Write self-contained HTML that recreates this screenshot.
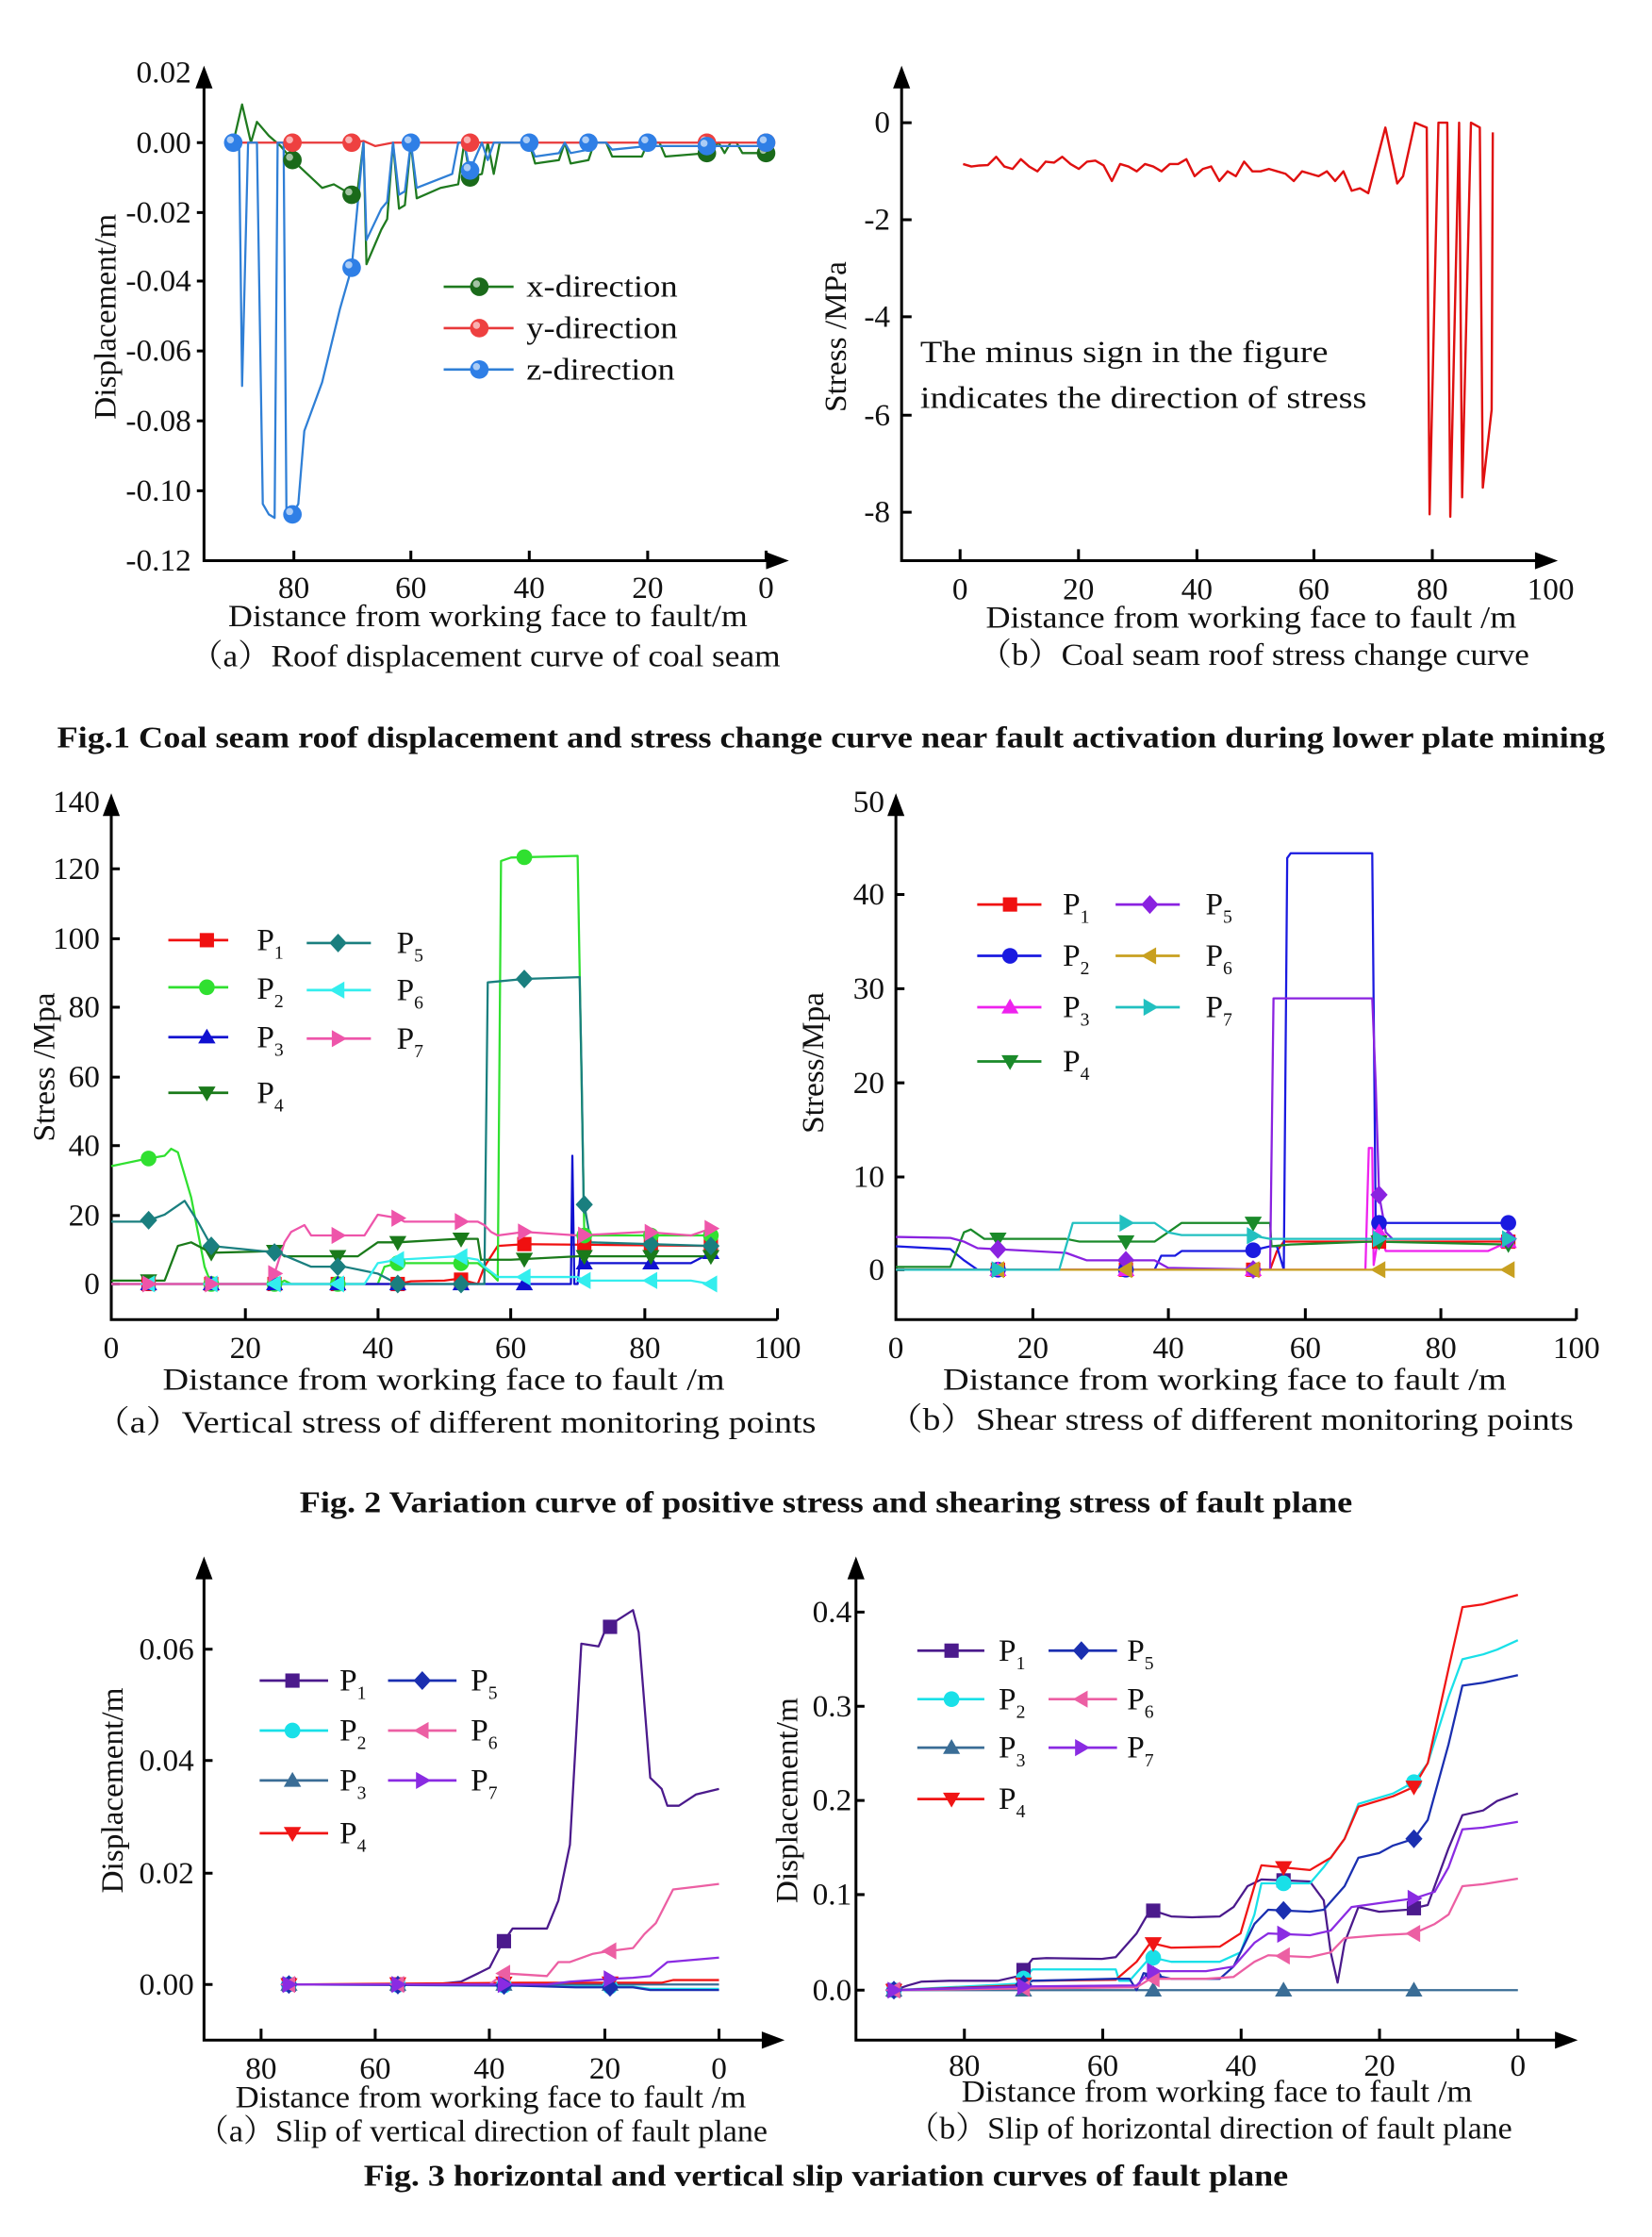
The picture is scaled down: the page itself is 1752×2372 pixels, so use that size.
<!DOCTYPE html>
<html><head><meta charset="utf-8">
<style>
html,body{margin:0;padding:0;background:#fff;}
svg{display:block;}
text{font-family:"Liberation Serif","Noto Serif CJK SC",serif;fill:#111;}
.t{font-size:22px;}
.b{font-weight:bold;font-size:21px;}
</style></head>
<body>
<svg id="s" xmlns="http://www.w3.org/2000/svg" width="1752" height="2372" viewBox="0 0 1158 1568" preserveAspectRatio="none">
<g id="axes" stroke="#000" stroke-width="2" fill="none">
<path d="M143,58 V393 H540"/>
<path d="M206,393v-7M288,393v-7M371,393v-7M454,393v-7M537,393v-7M143,100h-5M143,149h-5M143,197h-5M143,246h-5M143,295h-5M143,344h-5"/>
<path d="M632,58 V393 H1082"/>
<path d="M673,393v-8M756,393v-8M839,393v-8M921,393v-8M1004,393v-8M632,86h7M632,154h7M632,222h7M632,291h7M632,359h7"/>
<path d="M78,568 V925 H545"/>
<path d="M172,925v-8M265,925v-8M358,925v-8M452,925v-8M545,925v-8M78,609h6M78,658h6M78,706h6M78,755h6M78,803h6M78,852h6M78,900h6"/>
<path d="M628,568 V925 H1105"/>
<path d="M724,925v-8M819,925v-8M915,925v-8M1010,925v-8M1105,925v-8M628,627h6M628,693h6M628,759h6M628,825h6M628,890h6"/>
<path d="M143,1103 V1430 H540"/>
<path d="M183,1430v-8M263,1430v-8M343,1430v-8M424,1430v-8M504,1430v-8M143,1156h6M143,1234h6M143,1313h6M143,1391h6"/>
<path d="M600,1103 V1430 H1098"/>
<path d="M676,1430v-8M773,1430v-8M870,1430v-8M967,1430v-8M1064,1430v-8M600,1130h6M600,1196h6M600,1262h6M600,1328h6M600,1395h6"/>
</g>
<g fill="#000">
<path d="M137,62 L143,46 L149,62Z"/><path d="M537,387 L553,393 L537,399Z"/>
<path d="M626,62 L632,46 L638,62Z"/><path d="M1076,387 L1092,393 L1076,399Z"/>
<path d="M72,572 L78,556 L84,572Z"/>
<path d="M622,572 L628,556 L634,572Z"/>
<path d="M137,1107 L143,1091 L149,1107Z"/><path d="M534,1424 L550,1430 L534,1436Z"/>
<path d="M594,1107 L600,1091 L606,1107Z"/><path d="M1090,1424 L1106,1430 L1090,1436Z"/>
</g>
<g id="data"></g>
<g class="t">
<text x="134" y="58" text-anchor="end">0.02</text>
<text x="134" y="107" text-anchor="end">0.00</text>
<text x="134" y="156" text-anchor="end">-0.02</text>
<text x="134" y="204" text-anchor="end">-0.04</text>
<text x="134" y="253" text-anchor="end">-0.06</text>
<text x="134" y="302" text-anchor="end">-0.08</text>
<text x="134" y="351" text-anchor="end">-0.10</text>
<text x="134" y="400" text-anchor="end">-0.12</text>
<text x="206" y="419" text-anchor="middle">80</text>
<text x="288" y="419" text-anchor="middle">60</text>
<text x="371" y="419" text-anchor="middle">40</text>
<text x="454" y="419" text-anchor="middle">20</text>
<text x="537" y="419" text-anchor="middle">0</text>
<text x="160" y="439" textLength="364" lengthAdjust="spacingAndGlyphs">Distance from working face to fault/m</text>
<text x="133" y="467" textLength="414" lengthAdjust="spacingAndGlyphs">（a）Roof displacement curve of coal seam</text>
<text transform="translate(81,222) rotate(-90)" text-anchor="middle">Displacement/m</text>
<text x="369" y="208" textLength="106" lengthAdjust="spacingAndGlyphs">x-direction</text>
<text x="369" y="237" textLength="106" lengthAdjust="spacingAndGlyphs">y-direction</text>
<text x="369" y="266" textLength="104" lengthAdjust="spacingAndGlyphs">z-direction</text>
<text x="624" y="93" text-anchor="end">0</text>
<text x="624" y="161" text-anchor="end">-2</text>
<text x="624" y="229" text-anchor="end">-4</text>
<text x="624" y="298" text-anchor="end">-6</text>
<text x="624" y="366" text-anchor="end">-8</text>
<text x="673" y="420" text-anchor="middle">0</text>
<text x="756" y="420" text-anchor="middle">20</text>
<text x="839" y="420" text-anchor="middle">40</text>
<text x="921" y="420" text-anchor="middle">60</text>
<text x="1004" y="420" text-anchor="middle">80</text>
<text x="1087" y="420" text-anchor="middle">100</text>
<text x="691" y="440" textLength="372" lengthAdjust="spacingAndGlyphs">Distance from working face to fault /m</text>
<text x="686" y="466" textLength="386" lengthAdjust="spacingAndGlyphs">（b）Coal seam roof stress change curve</text>
<text transform="translate(593,236) rotate(-90)" text-anchor="middle">Stress /MPa</text>
<text x="645" y="254" textLength="286" lengthAdjust="spacingAndGlyphs">The minus sign in the figure</text>
<text x="645" y="286" textLength="313" lengthAdjust="spacingAndGlyphs">indicates the direction of stress</text>
<text class="b" x="40" y="524" textLength="1085" lengthAdjust="spacingAndGlyphs">Fig.1 Coal seam roof displacement and stress change curve near fault activation during lower plate mining</text>
<text x="70" y="569" text-anchor="end">140</text>
<text x="70" y="616" text-anchor="end">120</text>
<text x="70" y="665" text-anchor="end">100</text>
<text x="70" y="713" text-anchor="end">80</text>
<text x="70" y="762" text-anchor="end">60</text>
<text x="70" y="810" text-anchor="end">40</text>
<text x="70" y="859" text-anchor="end">20</text>
<text x="70" y="907" text-anchor="end">0</text>
<text x="78" y="952" text-anchor="middle">0</text>
<text x="172" y="952" text-anchor="middle">20</text>
<text x="265" y="952" text-anchor="middle">40</text>
<text x="358" y="952" text-anchor="middle">60</text>
<text x="452" y="952" text-anchor="middle">80</text>
<text x="545" y="952" text-anchor="middle">100</text>
<text x="114" y="974" textLength="394" lengthAdjust="spacingAndGlyphs">Distance from working face to fault /m</text>
<text x="66" y="1004" textLength="506" lengthAdjust="spacingAndGlyphs">（a）Vertical stress of different monitoring points</text>
<text transform="translate(38,748) rotate(-90)" text-anchor="middle">Stress /Mpa</text>
<text x="620" y="569" text-anchor="end">50</text>
<text x="620" y="634" text-anchor="end">40</text>
<text x="620" y="700" text-anchor="end">30</text>
<text x="620" y="766" text-anchor="end">20</text>
<text x="620" y="832" text-anchor="end">10</text>
<text x="620" y="897" text-anchor="end">0</text>
<text x="628" y="952" text-anchor="middle">0</text>
<text x="724" y="952" text-anchor="middle">20</text>
<text x="819" y="952" text-anchor="middle">40</text>
<text x="915" y="952" text-anchor="middle">60</text>
<text x="1010" y="952" text-anchor="middle">80</text>
<text x="1105" y="952" text-anchor="middle">100</text>
<text x="661" y="974" textLength="395" lengthAdjust="spacingAndGlyphs">Distance from working face to fault /m</text>
<text x="622" y="1002" textLength="481" lengthAdjust="spacingAndGlyphs">（b）Shear stress of different monitoring points</text>
<text transform="translate(577,745) rotate(-90)" text-anchor="middle">Stress/Mpa</text>
<text class="b" x="210" y="1060" textLength="738" lengthAdjust="spacingAndGlyphs">Fig. 2 Variation curve of positive stress and shearing stress of fault plane</text>
<text x="136" y="1163" text-anchor="end">0.06</text>
<text x="136" y="1241" text-anchor="end">0.04</text>
<text x="136" y="1320" text-anchor="end">0.02</text>
<text x="136" y="1398" text-anchor="end">0.00</text>
<text x="183" y="1457" text-anchor="middle">80</text>
<text x="263" y="1457" text-anchor="middle">60</text>
<text x="343" y="1457" text-anchor="middle">40</text>
<text x="424" y="1457" text-anchor="middle">20</text>
<text x="504" y="1457" text-anchor="middle">0</text>
<text x="165" y="1477" textLength="358" lengthAdjust="spacingAndGlyphs">Distance from working face to fault /m</text>
<text x="138" y="1501" textLength="400" lengthAdjust="spacingAndGlyphs">（a）Slip of vertical direction of fault plane</text>
<text transform="translate(86,1255) rotate(-90)" text-anchor="middle">Displacement/m</text>
<text x="597" y="1137" text-anchor="end">0.4</text>
<text x="597" y="1203" text-anchor="end">0.3</text>
<text x="597" y="1269" text-anchor="end">0.2</text>
<text x="597" y="1335" text-anchor="end">0.1</text>
<text x="597" y="1402" text-anchor="end">0.0</text>
<text x="676" y="1455" text-anchor="middle">80</text>
<text x="773" y="1455" text-anchor="middle">60</text>
<text x="870" y="1455" text-anchor="middle">40</text>
<text x="967" y="1455" text-anchor="middle">20</text>
<text x="1064" y="1455" text-anchor="middle">0</text>
<text x="674" y="1473" textLength="358" lengthAdjust="spacingAndGlyphs">Distance from working face to fault /m</text>
<text x="636" y="1499" textLength="424" lengthAdjust="spacingAndGlyphs">（b）Slip of horizontal direction of fault plane</text>
<text transform="translate(559,1262) rotate(-90)" text-anchor="middle">Displacement/m</text>
<text class="b" x="255" y="1532" textLength="648" lengthAdjust="spacingAndGlyphs">Fig. 3 horizontal and vertical slip variation curves of fault plane</text>
</g>
<g class="t" id="legtext">
<text x="180" y="666">P<tspan font-size="13" dy="6">1</tspan></text>
<text x="180" y="700">P<tspan font-size="13" dy="6">2</tspan></text>
<text x="180" y="734">P<tspan font-size="13" dy="6">3</tspan></text>
<text x="180" y="773">P<tspan font-size="13" dy="6">4</tspan></text>
<text x="278" y="668">P<tspan font-size="13" dy="6">5</tspan></text>
<text x="278" y="701">P<tspan font-size="13" dy="6">6</tspan></text>
<text x="278" y="735">P<tspan font-size="13" dy="6">7</tspan></text>
<text x="745" y="641">P<tspan font-size="13" dy="6">1</tspan></text>
<text x="745" y="677">P<tspan font-size="13" dy="6">2</tspan></text>
<text x="745" y="713">P<tspan font-size="13" dy="6">3</tspan></text>
<text x="745" y="751">P<tspan font-size="13" dy="6">4</tspan></text>
<text x="845" y="641">P<tspan font-size="13" dy="6">5</tspan></text>
<text x="845" y="677">P<tspan font-size="13" dy="6">6</tspan></text>
<text x="845" y="713">P<tspan font-size="13" dy="6">7</tspan></text>
<text x="238" y="1185">P<tspan font-size="13" dy="6">1</tspan></text>
<text x="238" y="1220">P<tspan font-size="13" dy="6">2</tspan></text>
<text x="238" y="1255">P<tspan font-size="13" dy="6">3</tspan></text>
<text x="238" y="1292">P<tspan font-size="13" dy="6">4</tspan></text>
<text x="330" y="1185">P<tspan font-size="13" dy="6">5</tspan></text>
<text x="330" y="1220">P<tspan font-size="13" dy="6">6</tspan></text>
<text x="330" y="1255">P<tspan font-size="13" dy="6">7</tspan></text>
<text x="700" y="1164">P<tspan font-size="13" dy="6">1</tspan></text>
<text x="700" y="1198">P<tspan font-size="13" dy="6">2</tspan></text>
<text x="700" y="1232">P<tspan font-size="13" dy="6">3</tspan></text>
<text x="700" y="1268">P<tspan font-size="13" dy="6">4</tspan></text>
<text x="790" y="1164">P<tspan font-size="13" dy="6">5</tspan></text>
<text x="790" y="1198">P<tspan font-size="13" dy="6">6</tspan></text>
<text x="790" y="1232">P<tspan font-size="13" dy="6">7</tspan></text>
</g>
</svg>
<script>
(function(){
var G=document.getElementById("data"),out="";
function line(pts,X,Y,c,w){var d="";pts.forEach(function(p,i){d+=(i?"L":"M")+X(p[0]).toFixed(1)+","+Y(p[1]).toFixed(1);});out+='<path d="'+d+'" fill="none" stroke="'+c+'" stroke-width="'+(w||1.5)+'" stroke-linejoin="round"/>';}
function interp(pts,x){for(var i=0;i<pts.length-1;i++){var a=pts[i],b=pts[i+1];var lo=Math.min(a[0],b[0]),hi=Math.max(a[0],b[0]);if(x>=lo&&x<=hi){if(hi==lo)return b[1];return a[1]+(b[1]-a[1])*(x-a[0])/(b[0]-a[0]);}}return pts[pts.length-1][1];}
function mk(type,x,y,c,r){r=r||5.5;var s;
 if(type=="sq")s='<rect x="'+(x-r+0.5)+'" y="'+(y-r+0.5)+'" width="'+(2*r-1)+'" height="'+(2*r-1)+'"';
 else if(type=="ci")s='<circle cx="'+x+'" cy="'+y+'" r="'+r+'"';
 else{var p;
  if(type=="up")p=[[0,-r*1.1],[r*1.1,r*0.8],[-r*1.1,r*0.8]];
  else if(type=="dn")p=[[0,r*1.1],[r*1.1,-r*0.8],[-r*1.1,-r*0.8]];
  else if(type=="di")p=[[0,-r*1.2],[r*1.1,0],[0,r*1.2],[-r*1.1,0]];
  else if(type=="lf")p=[[-r*1.1,0],[r*0.8,-r*1.1],[r*0.8,r*1.1]];
  else p=[[r*1.1,0],[-r*0.8,-r*1.1],[-r*0.8,r*1.1]];
  s='<polygon points="'+p.map(function(q){return (x+q[0]).toFixed(1)+","+(y+q[1]).toFixed(1)}).join(" ")+'"';}
 out+=s+' fill="'+c+'"/>';}
function ball(x,y,c){out+='<circle cx="'+x+'" cy="'+y+'" r="6.5" fill="'+c+'"/><circle cx="'+(x-2)+'" cy="'+(y-2)+'" r="2.5" fill="#fff" opacity="0.6"/>';}
var T=["sq","ci","up","dn","di","lf","rt"];
function legend(c1,c2,ys,ys2,cols){for(var i=0;i<7;i++){var col=i<4?c1:c2,y=i<4?ys[i]:ys2[i-4];out+='<path d="M'+col[0]+","+y+"H"+col[1]+'" stroke="'+cols[i]+'" stroke-width="1.8"/>';mk(T[i],col[2],y,cols[i]);}}

var X=function(d){return 537-4.15*d},Y=function(v){return 100-2435*v};
var gx=[[90,0],[88.5,0.011],[87,0],[86,0.006],[84,0.002],[82,-0.001],[80,-0.005],[75,-0.013],[73,-0.012],[70,-0.015],[69,-0.014],[68,0],[67.5,-0.035],[65,-0.025],[64,-0.022],[63,0],[62,-0.019],[61,-0.018],[60,0],[59,-0.016],[55,-0.013],[52,-0.012],[51,0],[50,-0.01],[48,-0.009],[47,0],[46,-0.009],[45,0],[40,0],[39,-0.006],[35,-0.005],[34,0],[33,-0.006],[30,-0.005],[29,0],[27,0],[26,-0.004],[21,-0.004],[20,0],[18,0],[17,-0.004],[10,-0.003],[8,0],[7,-0.003],[6,0],[5,0],[4,-0.003],[0,-0.003]];
var ry=[[90,0],[70,0],[68,0.0005],[66,-0.001],[63,0],[0,0]];
var bz=[[90,0],[89,0],[88.5,-0.07],[87.5,0],[86,0],[85,-0.104],[84,-0.107],[83,-0.108],[82.5,0],[81.5,0],[81,-0.107],[80,-0.107],[79,-0.104],[78,-0.083],[75,-0.069],[72,-0.048],[70,-0.036],[68,0],[67.5,-0.028],[65,-0.019],[64,-0.017],[63,0],[62,-0.015],[61,-0.014],[60,0],[59,-0.013],[53,-0.009],[52,0],[51,0],[50,-0.008],[49,-0.004],[48,0],[47,-0.005],[46,0],[40,0],[39,-0.004],[35,-0.003],[34,0],[33,-0.003],[30,-0.002],[29,0],[27,0],[26,-0.002],[20,-0.001],[18,-0.001],[10,-0.001],[0,-0.001]];
line(gx,X,Y,"#1f7a1f");line(ry,X,Y,"#e8393a");line(bz,X,Y,"#2f7fd6");
[80,70,50,10,0].forEach(function(d){ball(X(d),Y(interp(gx,d)),"#1a6a1a");});
[80,70,50,10,0].forEach(function(d){ball(X(d),Y(0),"#ee4040");});
[[90,0],[80,-0.107],[70,-0.036],[60,0],[50,-0.008],[40,0],[30,0],[20,0],[10,-0.001],[0,0]].forEach(function(p){ball(X(p[0]),Y(p[1]),"#2f7fe6");});
[["#1f7a1f","#1a6a1a",201],["#e8393a","#ee4040",230],["#2f7fd6","#2f7fe6",259]].forEach(function(a){out+='<path d="M311,'+a[2]+'H360" stroke="'+a[0]+'" stroke-width="1.8"/>';ball(336,a[2],a[1]);});

X=function(d){return 673+4.14*d};Y=function(s){return 86-34.1*s};
var rs=[],vals=[-0.85,-0.9,-0.88,-0.87,-0.7,-0.9,-0.95,-0.75,-0.9,-1.0,-0.8,-0.82,-0.7,-0.85,-0.95,-0.8,-0.78,-0.88,-1.2,-0.85,-0.9,-1.0,-0.85,-0.9,-1.0,-0.85,-0.85,-0.75,-1.1,-0.95,-0.9,-1.2,-1.0,-1.1,-0.8,-1.0,-1.0,-0.95,-1.0,-1.05,-1.2,-1.0,-1.05,-1.1,-1.0,-1.2,-1.0,-1.4,-1.35,-1.45];
for(var i=0;i<vals.length;i++)rs.push([0.5+i*1.4,vals[i]]);
rs=rs.concat([[72,-0.1],[74,-1.25],[75,-1.1],[77,0],[79,-0.1],[79.5,-8.05],[81,0],[82.5,0],[83,-8.1],[84.5,0],[85,-7.7],[86.5,0],[88,-0.1],[88.5,-7.5],[90,-5.9],[90.2,-0.2]]);
line(rs,X,Y,"#e01010",1.6);

X=function(d){return 78+4.67*d};Y=function(s){return 900-2.43*s};
var c2a=["#f01010","#30e030","#1010d0","#1a7a1a","#1a7f7f","#33eeee","#ee55aa"];
var s2a=[
[[0,0],[43,0],[45,0.8],[50,1],[52,1.5],[55,0],[56,5],[58,11],[62,11.5],[90,11]],
[[0,34],[5,36],[8,37],[9,39],[10,38],[12,25],[14,5],[15,0],[25,0],[26,1],[27,0],[40,0],[41,5],[43,6],[55,6],[57,3],[58,1],[58.5,122],[60,123],[70,123.5],[71,14],[90,14]],
[[0,0],[69,0],[69.2,37],[69.5,0],[70,0],[70.5,10],[71,6],[87,6],[90,9]],
[[0,1],[8,1],[10,11],[12,12],[14,10],[15,9],[25,9.5],[26,8],[37,8],[40,12],[43,12],[52,13],[55,13],[55.5,7],[60,7],[70,8],[90,8]],
[[0,18],[5,18],[8,20],[11,24],[13,18],[15,11],[25,9],[30,5],[35,5],[40,3],[43,0],[56,0],[56.5,87],[62,88],[70.3,88.5],[70.6,60],[70.9,24],[72,12],[90,11]],
[[0,0],[38,0],[40,6],[43,7],[52,8],[55,7],[56,5],[58,2],[70,2],[71,1],[80,1],[87,1],[90,0]],
[[0,0],[24,0],[26,12],[27,15],[29,17],[30,14],[38,14],[40,20],[43,19],[44,18],[55,18],[56,17],[57,15],[58,14],[62,15],[70,14],[80,15],[87,14],[90,16]]];
s2a.forEach(function(p,i){line(p,X,Y,c2a[i]);});
[5.6,15,24.5,34,43,52.5,62,71,81,90].forEach(function(d){s2a.forEach(function(p,i){mk(T[i],X(d),Y(interp(p,d)),c2a[i]);});});
legend([118,160,145],[215,260,237],[659,692,727,766],[661,694,728],c2a);

X=function(d){return 628+4.77*d};Y=function(s){return 890-6.56*s};
var c2b=["#f01010","#1a1ae0","#ee22ee","#1a8a2a","#8a22e0","#c8a020","#22c0c0"];
var s2b=[
[[0,0],[55,0],[56,2],[57,3],[90,3]],
[[0,2.5],[8,2.2],[10,1],[12,0],[38,0],[39,1.5],[41,1.5],[42,2],[52,2],[55,2.5],[56,2.5],[57,0],[57.5,44],[58,44.5],[70,44.5],[70.5,5],[71,5],[90,5]],
[[0,0],[69,0],[69.5,13],[70,13],[70.2,0.5],[71,4],[72,2],[87,2],[90,3]],
[[0,0.3],[8,0.3],[10,4],[11,4.3],[13,3.3],[25,3.3],[27,3],[38,3],[40,4],[42,5],[55,5],[55.2,2.5],[58,2.7],[70,3],[90,2.7]],
[[0,3.5],[8,3.4],[10,3],[12,2.3],[20,2],[25,1.8],[28,1],[38,1],[40,0.2],[55,0],[55.5,29],[70,29],[70.5,20],[71,8],[72,4],[73,3.3],[90,3.3]],
[[0,0],[90,0]],
[[0,0],[24,0],[26,5],[38,5],[40,4],[42,3.7],[52,3.7],[55,3.3],[90,3.3]]];
s2b.forEach(function(p,i){line(p,X,Y,c2b[i]);});
[15,33.8,52.5,71,90].forEach(function(d){s2b.forEach(function(p,i){mk(T[i],X(d),Y(interp(p,d)),c2b[i]);});});
legend([685,730,708],[782,827,806],[634,670,706,744],[634,670,706],c2b);

X=function(d){return 504-4.02*d};Y=function(v){return 1391-3917*v};
var c3=["#4b1a8c","#19e0e8","#3a6d96","#f01515","#1a2fb0","#ec5fa3","#8a2be2"];
var s3a=[
[[75,0],[50,0],[45,0.0005],[42,0.002],[40,0.003],[38,0.007],[36,0.010],[30,0.010],[28,0.015],[26,0.025],[24,0.061],[21,0.0605],[20,0.063],[18,0.065],[15,0.067],[14,0.063],[12,0.037],[10,0.035],[9,0.032],[7,0.032],[4,0.034],[0,0.035]],
[[75,0],[35,-0.0002],[25,-0.0003],[15,-0.0004],[12,-0.0008],[0,-0.0008]],
[[75,0],[0,0]],
[[75,0],[35,0.0003],[10,0.0003],[8,0.0008],[0,0.0008]],
[[75,0],[35,-0.0002],[25,-0.0005],[15,-0.0005],[12,-0.001],[0,-0.001]],
[[75,0],[40,0],[37.5,0.002],[30,0.0015],[28,0.004],[26,0.004],[22,0.0055],[19,0.006],[15,0.0065],[13,0.009],[11,0.011],[8,0.017],[4,0.0175],[0,0.018]],
[[75,0],[30,0],[26,0.0005],[19,0.001],[15,0.0012],[12,0.0015],[9,0.004],[0,0.0048]]];
s3a.forEach(function(p,i){line(p,X,Y,c3[i]);});
[75,56,37.5,19].forEach(function(d){s3a.forEach(function(p,i){mk(T[i],X(d),Y(interp(p,d)),c3[i]);});});
legend([182,230,205],[272,320,296],[1178,1213,1248,1285],[1178,1213,1248],c3);

X=function(d){return 1064-4.86*d};Y=function(v){return 1395-663*v};
var s3b=[
[[90,0],[88,0.005],[86,0.009],[82,0.01],[75,0.01],[72,0.015],[70,0.033],[68,0.034],[60,0.033],[58,0.035],[55,0.06],[53,0.085],[50,0.078],[47,0.077],[43,0.078],[41,0.088],[39,0.11],[37,0.117],[30,0.115],[28,0.095],[27,0.04],[26,0.008],[25,0.05],[23,0.088],[20,0.083],[16,0.085],[13,0.09],[10,0.15],[8,0.185],[5,0.19],[3,0.2],[0,0.208]],
[[90,0],[72,0.007],[70,0.022],[58,0.022],[57.5,0.01],[56,0.01],[53,0.035],[50,0.03],[43,0.03],[40,0.04],[38,0.08],[37,0.113],[30,0.113],[28,0.13],[25,0.16],[23,0.197],[18,0.208],[15,0.22],[13,0.24],[10,0.31],[8,0.35],[5,0.355],[3,0.36],[0,0.37]],
[[90,0],[0,0]],
[[90,0],[72,0.005],[70,0.01],[58,0.011],[55,0.03],[53,0.05],[50,0.045],[43,0.046],[40,0.06],[38,0.11],[37,0.132],[30,0.127],[27,0.14],[25,0.16],[23,0.194],[18,0.205],[15,0.215],[13,0.24],[10,0.34],[8,0.405],[5,0.408],[3,0.412],[0,0.418]],
[[90,0],[72,0.004],[70,0.01],[58,0.012],[56,0.012],[55,0.0],[54,0.018],[50,0.012],[43,0.012],[41,0.025],[38,0.07],[36,0.085],[30,0.083],[28,0.085],[25,0.11],[23,0.14],[20,0.145],[18,0.153],[15,0.16],[13,0.18],[10,0.26],[8,0.322],[5,0.325],[0,0.333]],
[[90,0],[70,0.002],[55,0.003],[53,0.012],[45,0.012],[41,0.014],[38,0.03],[36,0.037],[30,0.035],[27,0.04],[25,0.055],[20,0.058],[15,0.06],[12,0.07],[10,0.08],[8,0.11],[5,0.112],[0,0.118]],
[[90,0],[70,0.004],[55,0.005],[53,0.02],[45,0.02],[41,0.025],[38,0.05],[36,0.06],[30,0.058],[27,0.063],[24,0.088],[20,0.092],[15,0.097],[12,0.104],[10,0.13],[8,0.17],[5,0.172],[0,0.178]]];
s3b.forEach(function(p,i){line(p,X,Y,c3[i]);});
[90,71.3,52.6,33.8,15].forEach(function(d){s3b.forEach(function(p,i){mk(T[i],X(d),Y(interp(p,d)),c3[i]);});});
legend([643,690,667],[735,783,758],[1157,1191,1225,1261],[1157,1191,1225],c3);

G.innerHTML=out;
})();
</script>
</body></html>
